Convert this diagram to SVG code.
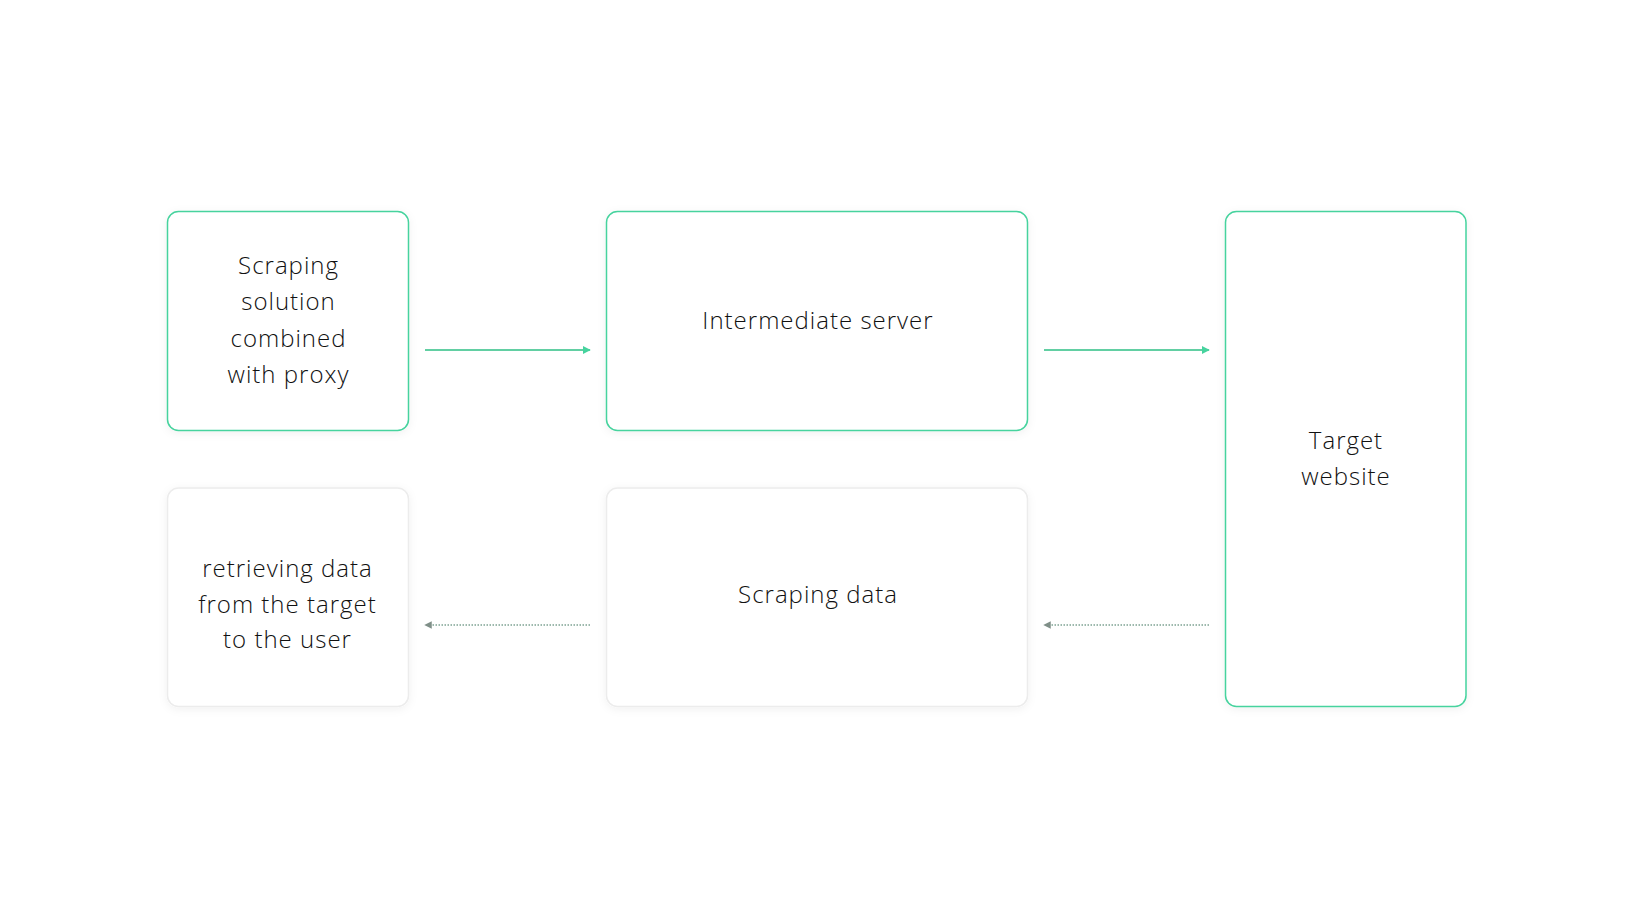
<svg xmlns="http://www.w3.org/2000/svg" width="1633" height="918" viewBox="0 0 1633 918">
  <style>
    .box { fill: #ffffff; stroke-width: 1.5; }
    .green { stroke: #46d39e; }
    .gray { stroke: #ececec; }
    .label { font-family: "Open Sans", "Lato", "Liberation Sans", sans-serif; font-size: 24px; font-weight: 300; letter-spacing: 1px; fill: #111111; text-anchor: middle; }
    .solid { stroke: #62cfa3; stroke-width: 2; fill: none; }
    .dotted { stroke: #7da392; stroke-width: 1.5; stroke-dasharray: 1.5 1.5; fill: none; }
  </style>
  <defs>
    <filter id="shadow" x="-10%" y="-10%" width="120%" height="120%">
      <feDropShadow dx="0" dy="2" stdDeviation="4" flood-color="#000000" flood-opacity="0.06"/>
    </filter>
    <marker id="headGreen" viewBox="0 0 10 10" refX="9" refY="5" markerWidth="4" markerHeight="4" orient="auto" markerUnits="strokeWidth">
      <path d="M0,0 L10,5 L0,10 Z" fill="#46d39e"/>
    </marker>
    <marker id="headGray" viewBox="0 0 10 10" refX="9" refY="5" markerWidth="5" markerHeight="5" orient="auto" markerUnits="strokeWidth">
      <path d="M0,0 L10,5 L0,10 Z" fill="#7f8f88"/>
    </marker>
  </defs>
  <rect width="1633" height="918" fill="#ffffff"/>

  <g id="node-scraping-solution">
    <rect class="box green" x="167.5" y="211.5" width="241" height="219" rx="11" filter="url(#shadow)"/>
    <text class="label" x="288.5" y="274">Scraping</text>
    <text class="label" x="288.5" y="310">solution</text>
    <text class="label" x="288.5" y="346.5">combined</text>
    <text class="label" x="288.5" y="382.5">with proxy</text>
  </g>

  <g id="node-intermediate-server">
    <rect class="box green" x="606.5" y="211.5" width="421" height="219" rx="11" filter="url(#shadow)"/>
    <text class="label" x="818" y="328.5">Intermediate server</text>
  </g>

  <g id="node-target-website">
    <rect class="box green" x="1225.5" y="211.5" width="240.5" height="495" rx="11" filter="url(#shadow)"/>
    <text class="label" x="1346" y="449">Target</text>
    <text class="label" x="1346" y="485">website</text>
  </g>

  <g id="node-retrieving-data">
    <rect class="box gray" x="167.5" y="488" width="241" height="218.5" rx="11" filter="url(#shadow)"/>
    <text class="label" x="287.5" y="576.5">retrieving data</text>
    <text class="label" x="287.5" y="612.5">from the target</text>
    <text class="label" x="287.5" y="647.5">to the user</text>
  </g>

  <g id="node-scraping-data">
    <rect class="box gray" x="606.5" y="488" width="421" height="218.5" rx="11" filter="url(#shadow)"/>
    <text class="label" x="818" y="602.5">Scraping data</text>
  </g>

  <g id="connectors">
    <line class="solid" x1="425" y1="350" x2="590" y2="350" marker-end="url(#headGreen)"/>
    <line class="solid" x1="1044" y1="350" x2="1209" y2="350" marker-end="url(#headGreen)"/>
    <line class="dotted" x1="1209" y1="625" x2="1044" y2="625" marker-end="url(#headGray)"/>
    <line class="dotted" x1="590" y1="625" x2="425" y2="625" marker-end="url(#headGray)"/>
  </g>
</svg>
